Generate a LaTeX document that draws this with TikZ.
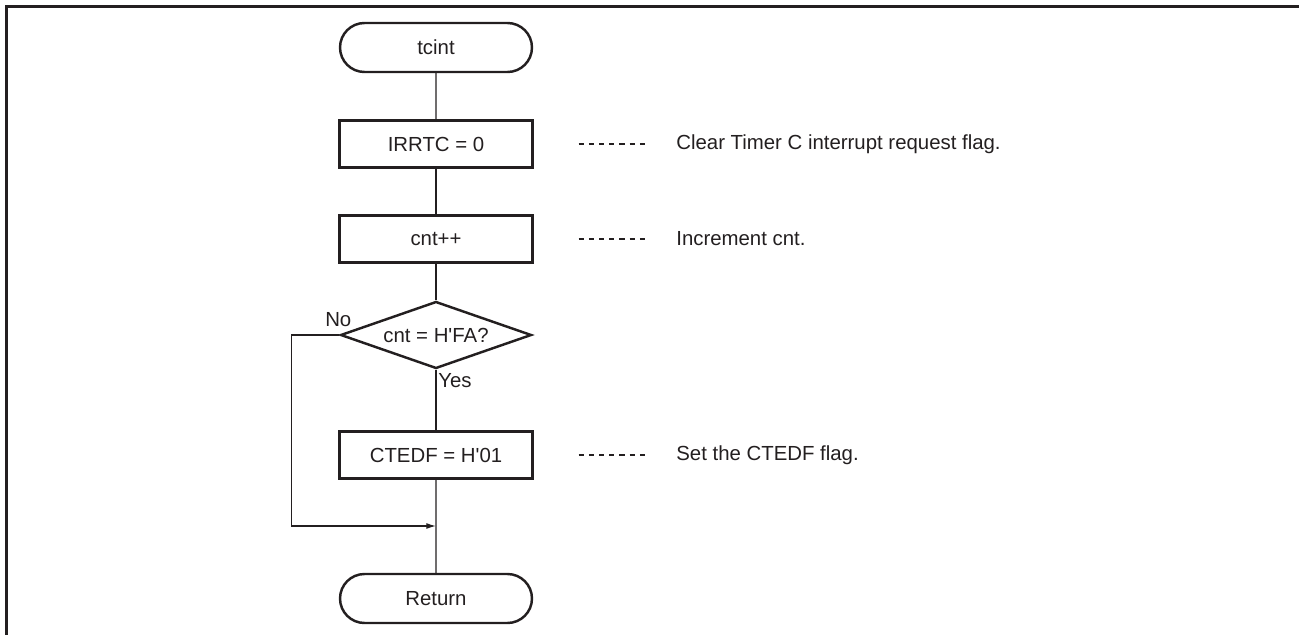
\documentclass[tikz,border=0pt]{standalone}
\usepackage{fontspec}
\setmainfont{Liberation Sans}[Ligatures=TeXOff]
\usepackage{tikz}
\usetikzlibrary{arrows.meta, shapes.geometric, shapes.misc, calc}
\definecolor{InkGray}{RGB}{35,31,32}
\tikzset{
  >={Latex[length=5.5pt,width=3.4pt]},
  every node/.style={font=\fontsize{11.6pt}{14pt}\selectfont,text=InkGray},
  % flowchart blocks
  terminal/.style={draw=InkGray,line width=1.4pt,rounded rectangle,
    minimum width=3.84cm,minimum height=0.98cm,inner sep=0},
  process/.style={draw=InkGray,line width=1.4pt,rectangle,
    minimum width=3.86cm,minimum height=0.94cm,inner sep=0},
  decision/.style={draw=InkGray,line width=1.4pt,diamond,aspect=2.85,
    minimum width=3.82cm,minimum height=1.34cm,inner sep=0},
  % lines
  flow/.style={draw=InkGray,line width=0.7pt},
  leader/.style={draw=InkGray,line width=0.6pt,dash pattern=on 2.9pt off 2.9pt,
    shorten <=0.9cm,shorten >=0.62cm},
  note/.style={anchor=west,inner sep=0},
  tag/.style={inner sep=0}
}
\begin{document}
\begin{tikzpicture}[x=0.02cm,y=-0.02cm]
    \useasboundingbox (0,0) rectangle (1299,635);
    % frame
    \draw[InkGray,line width=1.4pt] (6.5,635) -- (6.5,6.5) -- (1299,6.5);
    % blocks
    \node[terminal] (start) at (436,47.5) {tcint};
    \node[process]  (irr)   at (436,144)  {IRRTC = 0};
    \node[process]  (inc)   at (436,239)  {cnt++};
    \node[decision] (cmp)   at (436,335)  {cnt = H'FA?};
    \node[process]  (flag)  at (436,455)  {CTEDF = H'01};
    \node[terminal] (ret)   at (436,598.5) {Return};
    \coordinate (merge) at (436,526);
    % branch labels
    \node[tag] (no)  at ($(cmp.west)+(-1,-15)$) {No};
    \node[tag] (yes) at ($(cmp.south)+(19,11)$) {Yes};
    % comments
    \node[note] (c1) at (676,144) {Clear Timer C interrupt request flag.};
    \node[note] (c2) at (676,239) {Increment cnt.};
    \node[note] (c3) at (676,455) {Set the CTEDF flag.};
    % main line
    \draw[flow] (start) -- (irr);
    \draw[flow] (irr) -- (inc);
    \draw[flow] (inc) -- (cmp);
    \draw[flow] (cmp) -- (flag);
    \draw[flow] (flag) -- (ret);
    % no branch
    \draw[flow,->] (cmp.west) -- ++(-48,0) |- (merge);
    % leaders
    \draw[leader] (irr.east) -- (c1.west);
    \draw[leader] (inc.east) -- (c2.west);
    \draw[leader] (flag.east) -- (c3.west);
\end{tikzpicture}
\end{document}
